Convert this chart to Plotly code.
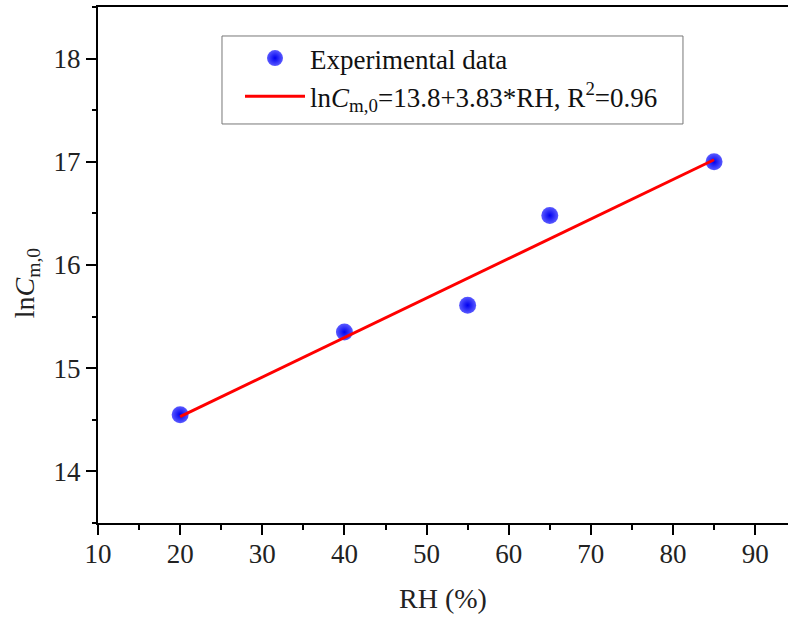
import plotly.graph_objects as go

# Data
rh = [20, 40, 55, 65, 85]
ln_cm0 = [14.55, 15.35, 15.61, 16.48, 17.00]
fit_rh = [20, 85]
fit_ln = [14.53, 17.02]

x_ticks = [10, 20, 30, 40, 50, 60, 70, 80, 90]
y_ticks = [14, 15, 16, 17, 18]

FONT = "Liberation Serif, Times New Roman, serif"

fig = go.Figure()
fig.add_trace(go.Scatter(
    x=rh, y=ln_cm0, mode="markers", name="Experimental data",
    marker=dict(size=17, color="#5a5aff",
                gradient=dict(type="radial", color="#0000f0"),
                line=dict(width=0)),
))
fig.add_trace(go.Scatter(
    x=fit_rh, y=fit_ln, mode="lines",
    name="ln<i>C</i><sub>m,0</sub>=13.8+3.83*RH, R<sup>2</sup>=0.96",
    line=dict(color="#ff0000", width=3),
))

axis_common = dict(
    showgrid=False, zeroline=False, showline=True, linecolor="black", linewidth=2,
    ticks="outside", ticklen=10, tickwidth=2, tickcolor="black",
    tickfont=dict(family=FONT, size=27, color="#222"),
)

fig.update_xaxes(
    range=[10, 94], tickvals=x_ticks, mirror=True,
    minor=dict(ticks="outside", ticklen=5, tickwidth=2, dtick=5, tick0=10, tickcolor="black"),
    title=dict(text="RH (%)", font=dict(family=FONT, size=28, color="#222"), standoff=20),
    ticklabelstandoff=-4,
    **axis_common,
)
fig.update_yaxes(
    range=[13.5, 18.5], tickvals=y_ticks, mirror=False,
    minor=dict(ticks="outside", ticklen=4, tickwidth=2, dtick=0.5, tick0=13.5, tickcolor="black"),
    ticklabelstandoff=0,
    **axis_common,
)

# y-axis title as annotation (placed slightly below centre, as in the reference)
fig.add_annotation(
    text="ln<i>C</i><sub>m,0</sub>", textangle=-90, showarrow=False,
    xref="paper", yref="paper", x=-0.104, y=0.465, xanchor="center", yanchor="middle",
    font=dict(family=FONT, size=28, color="#222"),
)

# legend frame
fig.add_shape(type="rect", xref="paper", yref="paper",
              x0=0.1797, x1=0.8478, y0=0.7733, y1=0.9438,
              line=dict(color="#777", width=1), fillcolor="rgba(0,0,0,0)", layer="above")

fig.update_layout(
    width=788, height=618,
    margin=dict(l=98, r=0, t=7, b=95),
    plot_bgcolor="white", paper_bgcolor="white",
    legend=dict(
        x=0.2058, y=0.9477, xanchor="left", yanchor="top",
        borderwidth=0, bgcolor="rgba(0,0,0,0)",
        font=dict(family=FONT, size=27, color="#111"),
        traceorder="normal", itemwidth=60,
    ),
    showlegend=True,
)

fig.write_html("out.html", config={"displayModeBar": False},
               post_script="document.body.style.margin='0';document.body.style.overflow='hidden';")
